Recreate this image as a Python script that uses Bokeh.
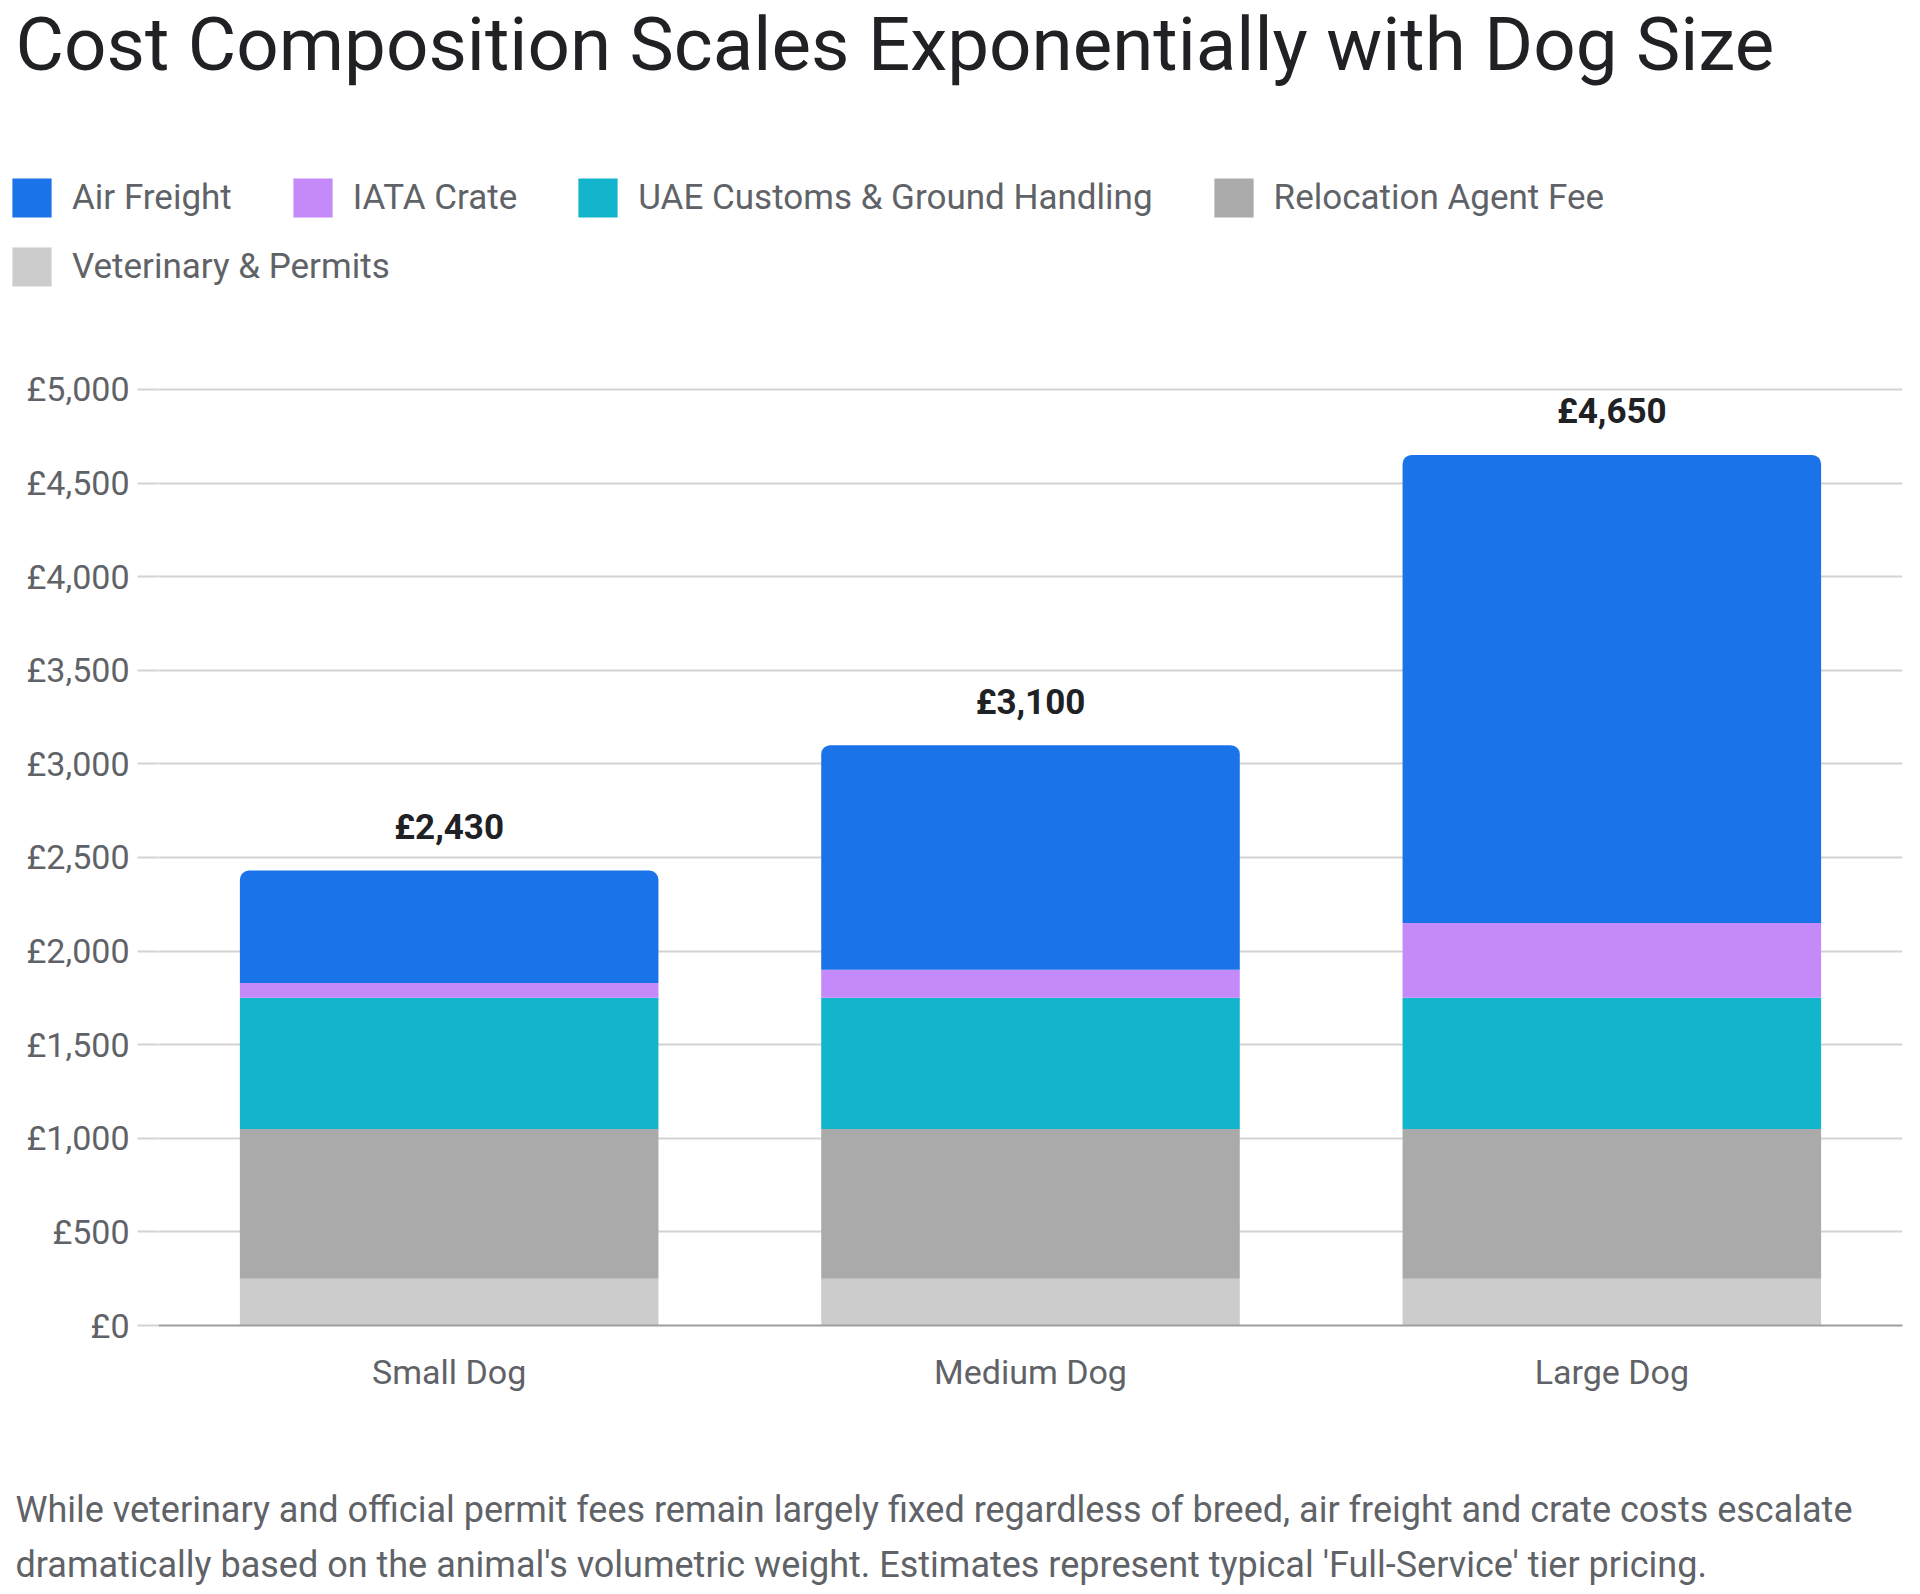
from bokeh.plotting import figure
from bokeh.layouts import column
from bokeh.models import (ColumnDataSource, FixedTicker, Legend, LegendItem,
                          LabelSet, Label, Range1d, FactorRange)
from bokeh.core.properties import value
from bokeh.embed import file_html
from bokeh.resources import INLINE

# ---- data -------------------------------------------------------------
sizes = ["Small Dog", "Medium Dog", "Large Dog"]
veterinary = [250, 250, 250]
agent_fee = [800, 800, 800]
customs = [700, 700, 700]
crate = [80, 150, 400]
air_freight = [600, 1200, 2500]

series_keys = ["veterinary", "agent_fee", "customs", "crate", "air_freight"]
series_labels = ["Veterinary & Permits", "Relocation Agent Fee",
                 "UAE Customs & Ground Handling", "IATA Crate", "Air Freight"]
series_colors = ["#cccccc", "#aaaaaa", "#12b5cb", "#c58af9", "#1a73e8"]

y_ticks = [0, 500, 1000, 1500, 2000, 2500, 3000, 3500, 4000, 4500, 5000]

totals = [v + a + c + k + f for v, a, c, k, f in
          zip(veterinary, agent_fee, customs, crate, air_freight)]
total_text = ["£{:,}".format(t) for t in totals]

source = ColumnDataSource(dict(
    size=sizes, veterinary=veterinary, agent_fee=agent_fee, customs=customs,
    crate=crate, air_freight=air_freight, total=totals, total_text=total_text))

FONT = "Roboto"
GREY_TEXT = "#5f6368"
DARK_TEXT = "#202124"
W = 1920
HEADER_H, CHART_H, FOOTER_H = 300, 1130, 164


def no_frame_alignment(fig):
    # keep each panel's frame independent inside the column
    if "frame_align" in fig.properties():
        fig.frame_align = False


def blank_panel(height):
    """A figure whose frame covers its whole canvas, used for free text."""
    f = figure(frame_width=W, frame_height=height, x_range=Range1d(0, W),
               y_range=Range1d(0, height), output_backend="svg",
               toolbar_location=None, min_border=0,
               x_axis_location=None, y_axis_location=None)
    f.grid.visible = False
    f.outline_line_color = None
    f.background_fill_color = "white"
    f.border_fill_color = "white"
    no_frame_alignment(f)
    return f


# ---- header: title + legend --------------------------------------------
header = blank_panel(HEADER_H)
header.add_layout(Label(
    text="Cost Composition Scales Exponentially with Dog Size",
    x=15, y=HEADER_H - 44, x_units="screen", y_units="screen",
    text_baseline="middle", text_align="left", text_font=FONT,
    text_font_size="74.5px", text_color=DARK_TEXT))

# zero-height bars that only lend their colours to the legend swatches
swatches = {}
for lab, col in zip(series_labels, series_colors):
    swatches[lab] = header.vbar(x=[0], top=[0], bottom=[0], width=1,
                                color=col, line_width=0, border_radius=4)

row1 = ["Air Freight", "IATA Crate", "UAE Customs & Ground Handling",
        "Relocation Agent Fee"]
row2 = ["Veterinary & Permits"]

# legend swatches are drawn at 80% of the glyph box
GLYPH_BOX = 49


def make_legend(names, row_center):
    return Legend(
        items=[LegendItem(label=n, renderers=[swatches[n]]) for n in names],
        orientation="horizontal",
        location=(7, HEADER_H - row_center - GLYPH_BOX / 2),
        glyph_width=GLYPH_BOX, glyph_height=GLYPH_BOX, label_standoff=16,
        spacing=56, padding=0, margin=0, border_line_color=None,
        background_fill_alpha=0, label_text_font=FONT,
        label_text_font_size="35px", label_text_color=GREY_TEXT,
        label_text_baseline="middle")


header.add_layout(make_legend(row1, 197))
header.add_layout(make_legend(row2, 266))

# ---- main chart ---------------------------------------------------------
p = figure(
    width=W, height=CHART_H,
    x_range=FactorRange(*sizes, range_padding=0),
    y_range=Range1d(0, 5475),
    output_backend="svg", toolbar_location=None, title=None,
    min_border_left=158, min_border_right=18,
    min_border_top=0, min_border_bottom=105,
)
p.outline_line_color = None
p.background_fill_color = "white"
p.border_fill_color = "white"
no_frame_alignment(p)

renderers = p.vbar_stack(series_keys, x="size", width=0.72, source=source,
                         color=series_colors, line_width=0)
renderers[-1].glyph.border_radius = (9, 9, 0, 0)

labels = LabelSet(x="size", y="total", text="total_text", source=source,
                  y_offset=43, text_align="center", text_baseline="middle",
                  text_font=value(FONT), text_font_size="35px",
                  text_font_style="bold", text_color=DARK_TEXT)
p.add_layout(labels)

p.yaxis.ticker = FixedTicker(ticks=y_ticks)
p.yaxis.major_label_overrides = {t: "£{:,}".format(t) for t in y_ticks}
p.yaxis.axis_line_color = None
p.yaxis.major_tick_in = 0
p.yaxis.major_tick_out = 21
p.yaxis.major_tick_line_color = "#d3d3d3"
p.yaxis.major_tick_line_width = 2
p.yaxis.minor_tick_line_color = None
p.yaxis.major_label_standoff = 8
p.yaxis.major_label_text_font = FONT
p.yaxis.major_label_text_font_size = "34px"
p.yaxis.major_label_text_color = GREY_TEXT

p.xaxis.axis_line_color = "#9e9e9e"
p.xaxis.axis_line_width = 2
p.xaxis.major_tick_line_color = None
p.xaxis.minor_tick_line_color = None
p.xaxis.major_tick_out = 0
p.xaxis.major_label_standoff = 26
p.xaxis.major_label_text_font = FONT
p.xaxis.major_label_text_font_size = "34px"
p.xaxis.major_label_text_color = GREY_TEXT

p.xgrid.grid_line_color = None
p.ygrid.grid_line_color = "#d3d3d3"
p.ygrid.grid_line_width = 2

# ---- footer caption ------------------------------------------------------
footer = blank_panel(FOOTER_H)
caption_lines = [
    "While veterinary and official permit fees remain largely fixed regardless of breed, air freight and crate costs escalate",
    "dramatically based on the animal's volumetric weight. Estimates represent typical 'Full-Service' tier pricing.",
]
for line, cy in zip(caption_lines, [79, 134]):
    footer.add_layout(Label(
        text=line, x=15, y=FOOTER_H - cy,
        x_units="screen", y_units="screen", text_baseline="middle",
        text_align="left", text_font=FONT, text_font_size="36px",
        text_color=GREY_TEXT))

layout = column(header, p, footer, spacing=0)
open("out.html", "w").write(file_html(layout, INLINE))
